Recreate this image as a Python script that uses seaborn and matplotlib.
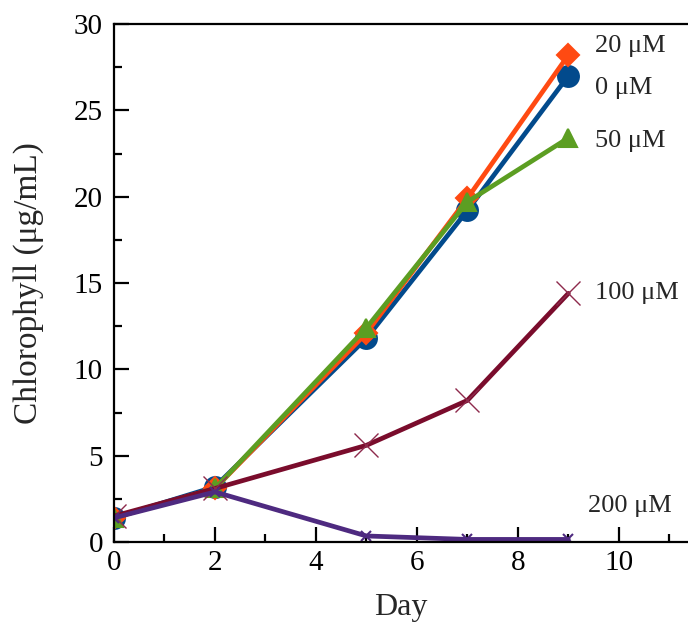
import numpy as np
import pandas as pd
import matplotlib
matplotlib.use("Agg")
import matplotlib.pyplot as plt
import seaborn as sns
from matplotlib.ticker import MultipleLocator

# data
days = [0, 2, 5, 7, 9]
conc_0 = [1.4, 3.2, 11.8, 19.2, 27.0]
conc_20 = [1.4, 3.1, 12.1, 19.9, 28.2]
conc_50 = [1.4, 3.1, 12.4, 19.7, 23.4]
conc_100 = [1.5, 3.1, 5.6, 8.2, 14.4]
conc_200 = [1.4, 2.9, 0.35, 0.15, 0.15]
labels = ["0 μM", "20 μM", "50 μM", "100 μM", "200 μM"]

series = [conc_0, conc_20, conc_50, conc_100, conc_200]
df = pd.DataFrame({
    "Day": days * len(series),
    "Chl": sum(series, []),
    "Treatment": np.repeat(labels, len(days)),
})

sns.set_style("ticks")
plt.rcParams["font.family"] = ["Liberation Serif", "DejaVu Serif"]

colors = {"0 μM": "#024a8c", "20 μM": "#ff4a12", "50 μM": "#5c9e22",
          "100 μM": "#7a0c2c", "200 μM": "#4e2a80"}
markers = {"0 μM": "o", "20 μM": "D", "50 μM": "^", "100 μM": "x", "200 μM": "x"}
msize = {"0 μM": 15, "20 μM": 11, "50 μM": 13, "100 μM": 17, "200 μM": 7}

fig = plt.figure(figsize=(6.88, 6.22), dpi=100)
ax = fig.add_axes([0.1657, 0.1286, 0.8343, 0.8328])

for lab in labels:
    sub = df[df["Treatment"] == lab]
    edge = "#8e2a4c" if lab == "100 μM" else colors[lab]
    sns.lineplot(data=sub, x="Day", y="Chl", ax=ax, color=colors[lab],
                 marker=markers[lab], markersize=msize[lab], linewidth=3.4,
                 markeredgecolor=edge,
                 markeredgewidth=1.0 if lab == "100 μM" else 1.5,
                 legend=False)

ax.set_xlim(0, 11.37)
ax.set_ylim(0, 30)
ax.xaxis.set_major_locator(MultipleLocator(2))
ax.xaxis.set_minor_locator(MultipleLocator(1))
ax.yaxis.set_major_locator(MultipleLocator(5))
ax.yaxis.set_minor_locator(MultipleLocator(2.5))
ax.set_xticks([0, 2, 4, 6, 8, 10])
ax.tick_params(axis="both", which="both", direction="in", width=1.6,
               labelsize=21, colors="black")
ax.tick_params(axis="both", which="major", length=11)
ax.tick_params(axis="both", which="minor", length=6)
ax.tick_params(axis="x", pad=6)
ax.tick_params(axis="y", pad=8)
ax.spines["right"].set_visible(False)
for s in ["left", "top", "bottom"]:
    ax.spines[s].set_linewidth(1.6)
    ax.spines[s].set_color("black")

ax.set_xlabel("Day", fontsize=23, labelpad=12)
ax.set_ylabel("Chlorophyll (μg/mL)", fontsize=24, labelpad=21)

ax.text(9.52, 28.7, "20 μM", fontsize=19, va="center")
ax.text(9.52, 26.3, "0 μM", fontsize=19, va="center")
ax.text(9.52, 23.2, "50 μM", fontsize=19, va="center")
ax.text(9.52, 14.4, "100 μM", fontsize=19, va="center")
ax.text(9.39, 2.1, "200 μM", fontsize=19, va="center")

fig.savefig("out.png", dpi=100)
